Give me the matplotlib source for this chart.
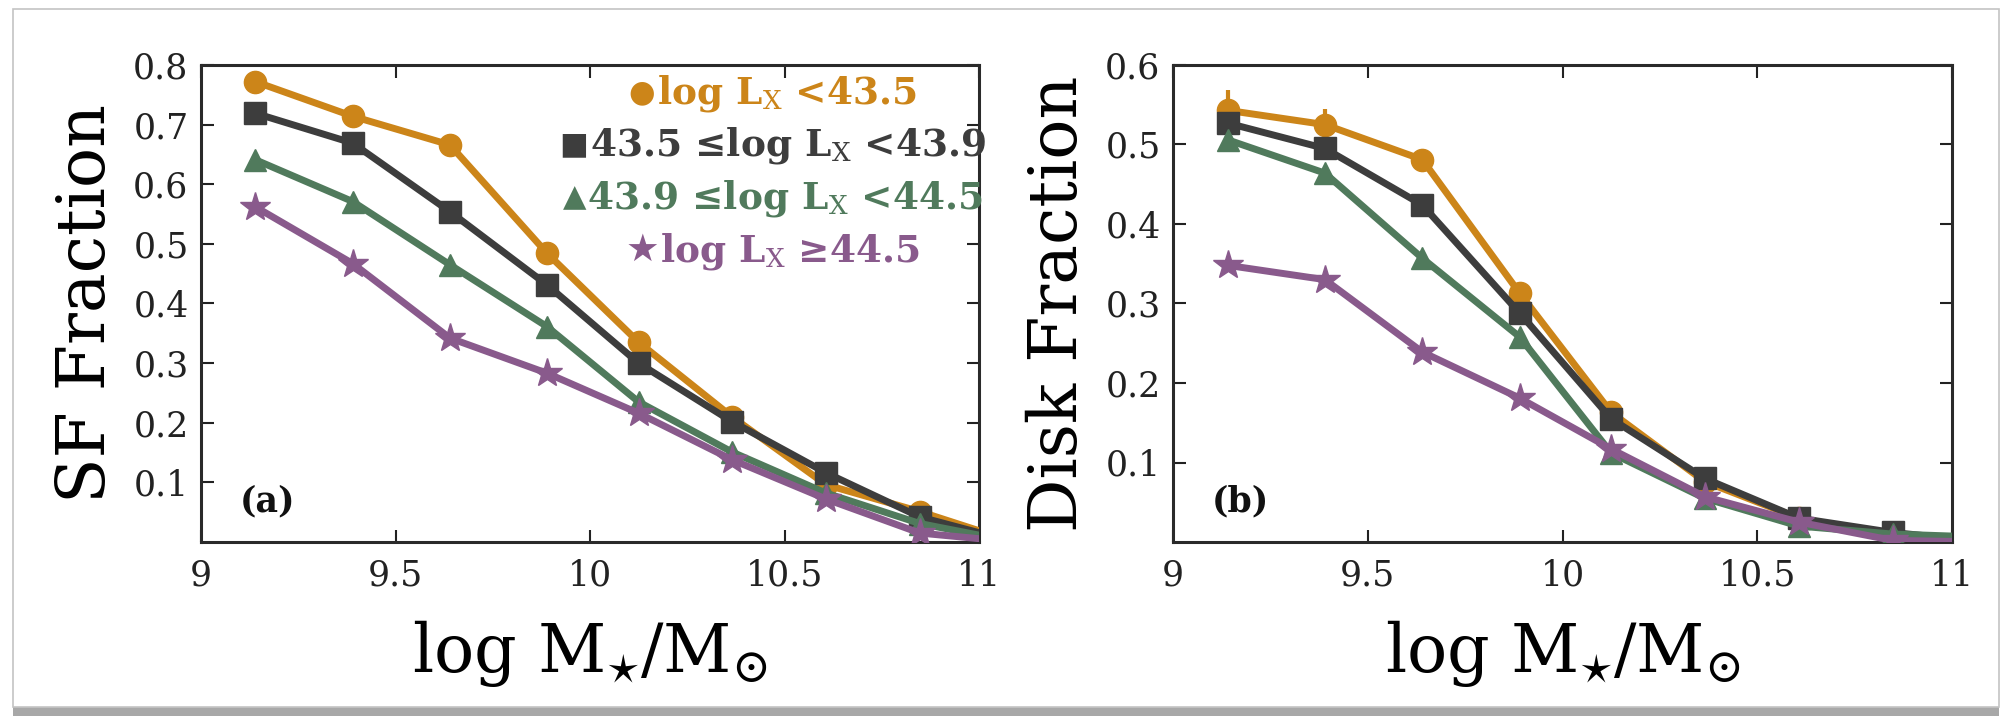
"""
plot.py

SF fraction and disk fraction vs stellar mass, split by X-ray luminosity bin.
"""

import matplotlib
matplotlib.use("Agg")
import matplotlib.pyplot as plt
from matplotlib.patches import Rectangle
from matplotlib.offsetbox import TextArea, HPacker, AnnotationBbox

plt.rcParams["font.family"] = ["DejaVu Serif", "DejaVu Sans"]
plt.rcParams["mathtext.fontset"] = "dejavuserif"

# stellar mass bin centres (last one sits just past the axis edge)
mass = [9.14, 9.39, 9.64, 9.89, 10.125, 10.365, 10.607, 10.848, 11.09]

# panel (a): star-forming fraction
sf_low = [0.772, 0.714, 0.666, 0.484, 0.335, 0.210, 0.096, 0.051, 0.0]
sf_mid = [0.719, 0.669, 0.554, 0.431, 0.300, 0.202, 0.116, 0.042, 0.0]
sf_high = [0.641, 0.571, 0.465, 0.361, 0.235, 0.151, 0.082, 0.031, 0.0]
sf_top = [0.562, 0.467, 0.342, 0.283, 0.216, 0.138, 0.072, 0.015, 0.0]
sf_low_err = [0.012, 0.008, 0.008, 0.008, 0.006, 0.005, 0.004, 0.004, 0.0]

# panel (b): disk fraction
disk_low = [0.543, 0.525, 0.481, 0.313, 0.163, 0.076, 0.030, 0.008, 0.0]
disk_mid = [0.527, 0.495, 0.424, 0.288, 0.155, 0.080, 0.030, 0.012, 0.0]
disk_high = [0.506, 0.464, 0.357, 0.258, 0.112, 0.055, 0.020, 0.010, 0.006]
disk_top = [0.348, 0.330, 0.239, 0.181, 0.117, 0.057, 0.025, 0.002, 0.0]
disk_low_err = [0.025, 0.020, 0.008, 0.008, 0.006, 0.004, 0.003, 0.002, 0.0]

# x-ray luminosity bins
bin_labels = [
    r"log L$_{\mathrm{X}}$ <43.5",
    r"43.5 ≤log L$_{\mathrm{X}}$ <43.9",
    r"43.9 ≤log L$_{\mathrm{X}}$ <44.5",
    r"log L$_{\mathrm{X}}$ ≥44.5",
]
bin_colors = ["#cc8519", "#3d3d3d", "#507a5c", "#895a8c"]
bin_markers = ["o", "s", "^", "*"]
bin_msize = [16, 16, 16, 22]
bin_glyphs = ["●", "■", "▲", "★"]
glyph_size = [22, 22, 22, 27]

xticks = [9, 9.5, 10, 10.5, 11]
xtick_labels = ["9", "9.5", "10", "10.5", "11"]

W, H = 2007, 716
fig = plt.figure(figsize=(W / 100, H / 100), dpi=100)
fig.patch.set_facecolor("white")

# screenshot-style frame with a soft shadow at the bottom
fig.patches.append(Rectangle((13 / W, 0 / H), 1986 / W, 700 / H, transform=fig.transFigure,
                             facecolor="#a8a8a8", edgecolor="none", zorder=-3))
fig.patches.append(Rectangle((13 / W, 9 / H), 1986 / W, 698 / H, transform=fig.transFigure,
                             facecolor="white", edgecolor="#c4c4c4", linewidth=1.2, zorder=-2))

ax_a = fig.add_axes([201 / W, 1 - 542 / H, 778 / W, 477 / H])
ax_b = fig.add_axes([1173 / W, 1 - 542 / H, 779 / W, 477 / H])


def draw_panel(ax, series, err, ylim, yticks, ylabel, tag):
    for i, vals in enumerate(series):
        ax.plot(mass, vals, color=bin_colors[i], lw=5, marker=bin_markers[i],
                ms=bin_msize[i], mec=bin_colors[i], mew=1, zorder=3 + i * 0.1)
    # error bars only poke out for the lowest-Lx bin
    ax.errorbar(mass, series[0], yerr=err, fmt="none", ecolor=bin_colors[0],
                elinewidth=3, capsize=0, zorder=2.9)

    ax.set_xlim(9, 11)
    ax.set_ylim(*ylim)
    ax.set_xticks(xticks)
    ax.set_xticklabels(xtick_labels)
    ax.set_yticks(yticks)
    ax.set_yticklabels([f"{t:.1f}" for t in yticks])
    ax.tick_params(direction="in", top=True, right=True, length=9, width=1.5,
                   labelsize=25, colors="#222222", pad=12)
    ax.tick_params(axis="y", pad=9)
    for spine in ax.spines.values():
        spine.set_linewidth(2.2)
        spine.set_edgecolor("#2a2a2a")

    ax.set_ylabel(ylabel, fontsize=48)
    ax.yaxis.set_label_coords(-0.105, 0.5)
    ax.set_xlabel(r"log M$_{\star}$/M$_{\odot}$", fontsize=48)
    ax.xaxis.set_label_coords(0.5, -0.16)
    ax.text(0.05, 0.085, tag, transform=ax.transAxes, fontsize=25,
            fontweight="bold", ha="left", va="center", color="#111111")


draw_panel(ax_a, [sf_low, sf_mid, sf_high, sf_top], sf_low_err, (0, 0.8),
           [0.1, 0.2, 0.3, 0.4, 0.5, 0.6, 0.7, 0.8], "SF Fraction", "(a)")
draw_panel(ax_b, [disk_low, disk_mid, disk_high, disk_top], disk_low_err, (0, 0.6),
           [0.1, 0.2, 0.3, 0.4, 0.5, 0.6], "Disk Fraction", "(b)")

# centred text legend with glyph markers
legend_y = [0.941, 0.832, 0.721, 0.610]
for glyph, gsize, label, color, yy in zip(bin_glyphs, glyph_size, bin_labels,
                                          bin_colors, legend_y):
    mark = TextArea(glyph, textprops=dict(color=color, fontsize=gsize, family="DejaVu Sans"))
    txt = TextArea(label, textprops=dict(color=color, fontsize=27, fontweight="bold"))
    row = HPacker(children=[mark, txt], pad=0, sep=1, align="center")
    ab = AnnotationBbox(row, (0.735, yy), xycoords="axes fraction", frameon=False,
                        box_alignment=(0.5, 0.5), pad=0, zorder=6)
    ax_a.add_artist(ab)

fig.savefig("out.png", dpi=100, facecolor=fig.get_facecolor())
